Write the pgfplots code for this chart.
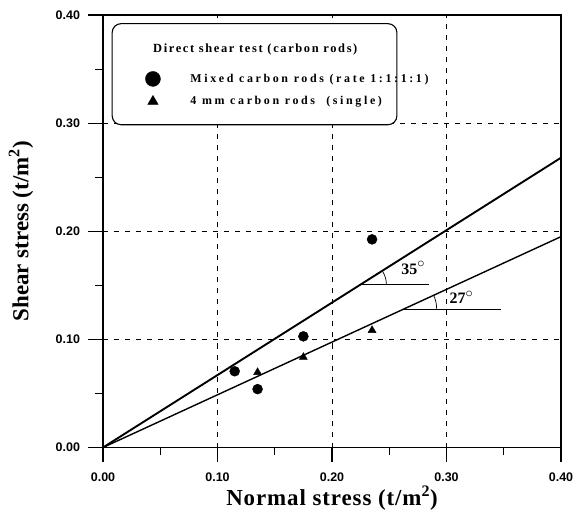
\documentclass[border=0pt]{standalone}
\usepackage{fontspec}
\setmainfont{Liberation Serif}
\setsansfont{Liberation Sans}
\usepackage{pgfplots}
\pgfplotsset{compat=1.18}
\newcommand{\legfont}{\bfseries\fontsize{12}{14}\selectfont\addfontfeatures{LetterSpace=22}}
\newcommand{\titfont}{\bfseries\fontsize{12.5}{14}\selectfont\addfontfeatures{LetterSpace=13}}
\begin{document}
\begin{tikzpicture}
\path[use as bounding box] (-103bp,-64.5bp) rectangle (471bp,447.5bp);
\begin{axis}[
  at={(0,0)}, anchor=south west,
  scale only axis, width=458bp, height=432.5bp,
  xmin=0, xmax=0.4, ymin=0, ymax=0.4,
  xtick={0,0.1,0.2,0.3,0.4}, ytick={0,0.1,0.2,0.3,0.4},
  minor xtick={0.05,0.15,0.25,0.35}, minor ytick={0.05,0.15,0.25,0.35},
  tick pos=left, tick align=outside,
  major tick length=14.5bp, minor tick length=7.5bp,
  every tick/.style={black, line width=1.1bp},
  xmajorgrids, ymajorgrids,
  major grid style={black, line width=0.6bp, dash pattern=on 5bp off 6bp},
  axis line style={line width=1.3bp},
  scaled ticks=false,
  /pgf/number format/assume math mode=true,
  xticklabel style={font=\sffamily\bfseries\fontsize{12.5}{14}\selectfont, yshift=-7bp, /pgf/number format/fixed, /pgf/number format/fixed zerofill, /pgf/number format/precision=2},
  yticklabel style={font=\sffamily\bfseries\fontsize{12.5}{14}\selectfont, xshift=-5bp, /pgf/number format/fixed, /pgf/number format/fixed zerofill, /pgf/number format/precision=2},
  xlabel={Normal stress (t/m$^{\mathbf{2}}$)},
  ylabel={Shear stress (t/m$^{\mathbf{2}}$)},
  xlabel style={font=\bfseries\fontsize{23}{26}\selectfont\addfontfeatures{LetterSpace=4}, at={(axis description cs:0.5,-0.117)}, anchor=center},
  ylabel style={font=\bfseries\fontsize{23}{26}\selectfont, at={(axis description cs:-0.179,0.5)}, anchor=center},
  legend image code/.code={\draw[#1] plot coordinates {(0bp,0bp)};},
  legend style={draw=none, fill=none, at={(axis cs:0.0369,0.348)}, anchor=north west,
    inner sep=0pt, font=\legfont,
    nodes={inner sep=0pt}, column sep=30bp, row sep=9bp},
  legend cell align=left,
]
\addplot[black, line width=1.9bp, forget plot] coordinates {(0,0) (0.4,0.268)};
\addplot[black, line width=1.4bp, forget plot] coordinates {(0,0) (0.4,0.195)};
\addplot[only marks, mark=*, mark size=5bp, black, forget plot] coordinates {(0.115,0.0705) (0.135,0.054) (0.175,0.1028) (0.235,0.1925)};
\addplot[only marks, mark=triangle*, mark size=4.6bp, black, forget plot] coordinates {(0.135,0.0695) (0.175,0.0835) (0.235,0.1084)};
% angle annotations
\draw[line width=0.7bp] (axis cs:0.2265,0.151) -- (axis cs:0.285,0.151);
\draw[line width=0.7bp] (axis cs:0.2265,0.151) ++(0:24bp) arc[start angle=0, end angle=32, radius=24bp];
\node[font=\bfseries\fontsize{16}{18}\selectfont] at (axis cs:0.271,0.166) {35\textsuperscript{\Large$\circ$}};
\draw[line width=0.7bp] (axis cs:0.2626,0.128) -- (axis cs:0.3476,0.128);
\draw[line width=0.7bp] (axis cs:0.2626,0.128) ++(0:33bp) arc[start angle=0, end angle=25, radius=33bp];
\node[font=\bfseries\fontsize{16}{18}\selectfont] at (axis cs:0.313,0.139) {27\textsuperscript{\Large$\circ$}};
% legend frame and title
\draw[line width=1.1bp, rounded corners=9bp, fill=white] (axis cs:0.008,0.2985) rectangle (axis cs:0.2567,0.392);
\node[font=\titfont] at (axis cs:0.133,0.368) {Direct shear test (carbon rods)};
\addlegendimage{only marks, mark=*, mark size=7.5bp, black}
\addlegendentry{Mixed carbon rods (rate 1:1:1:1)}
\addlegendimage{only marks, mark=triangle*, mark size=6bp, black}
\addlegendentry{4 mm carbon rods\ \ (single)}
\end{axis}
\end{tikzpicture}
\end{document}
